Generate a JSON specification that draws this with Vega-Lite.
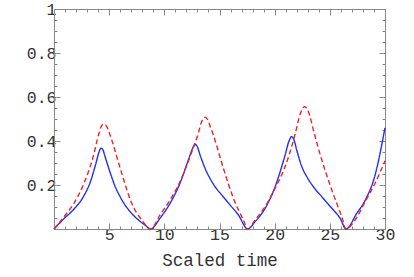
{
  "$schema": "https://vega.github.io/schema/vega-lite/v6.json",
  "width": 331,
  "height": 220,
  "autosize": {"type": "none"},
  "padding": {"left": 54, "top": 9, "right": 29, "bottom": 48},
  "background": "white",
  "config": {
    "view": {"stroke": null},
    "axis": {
      "labelFont": "Liberation Mono",
      "titleFont": "Liberation Mono",
      "labelFontSize": 16.5,
      "titleFontSize": 17.5,
      "titleFontWeight": "normal",
      "labelColor": "#333333",
      "titleColor": "#333333",
      "domainColor": "#888888",
      "tickColor": "#888888",
      "grid": false
    }
  },
  "data": {"values": [
    {"t":0,"v":0,"s":"a"},{"t":0.9,"v":0.047,"s":"a"},{"t":1.8,"v":0.09,"s":"a"},{"t":2.7,"v":0.15,"s":"a"},{"t":3.3,"v":0.215,"s":"a"},{"t":3.78,"v":0.295,"s":"a"},{"t":4.05,"v":0.345,"s":"a"},{"t":4.25,"v":0.367,"s":"a"},{"t":4.43,"v":0.36,"s":"a"},{"t":4.62,"v":0.33,"s":"a"},{"t":5.08,"v":0.258,"s":"a"},{"t":5.53,"v":0.195,"s":"a"},{"t":5.98,"v":0.148,"s":"a"},{"t":6.44,"v":0.109,"s":"a"},{"t":7.04,"v":0.071,"s":"a"},{"t":7.65,"v":0.041,"s":"a"},{"t":8.25,"v":0.018,"s":"a"},{"t":8.76,"v":0,"s":"a"},
    {"t":9.61,"v":0.049,"s":"a"},{"t":10.52,"v":0.117,"s":"a"},{"t":11.42,"v":0.208,"s":"a"},{"t":12.18,"v":0.314,"s":"a"},{"t":12.55,"v":0.365,"s":"a"},{"t":12.78,"v":0.385,"s":"a"},{"t":12.98,"v":0.375,"s":"a"},{"t":13.24,"v":0.336,"s":"a"},{"t":13.69,"v":0.276,"s":"a"},{"t":14.14,"v":0.23,"s":"a"},{"t":14.6,"v":0.192,"s":"a"},{"t":15.2,"v":0.155,"s":"a"},{"t":15.96,"v":0.109,"s":"a"},{"t":16.71,"v":0.064,"s":"a"},{"t":17.56,"v":0,"s":"a"},
    {"t":18.22,"v":0.033,"s":"a"},{"t":19.13,"v":0.094,"s":"a"},{"t":20.04,"v":0.192,"s":"a"},{"t":20.94,"v":0.335,"s":"a"},{"t":21.3,"v":0.4,"s":"a"},{"t":21.55,"v":0.42,"s":"a"},{"t":21.75,"v":0.405,"s":"a"},{"t":22.0,"v":0.359,"s":"a"},{"t":22.46,"v":0.283,"s":"a"},{"t":22.91,"v":0.238,"s":"a"},{"t":23.51,"v":0.192,"s":"a"},{"t":24.27,"v":0.147,"s":"a"},{"t":25.18,"v":0.094,"s":"a"},{"t":25.93,"v":0.049,"s":"a"},{"t":26.47,"v":0,"s":"a"},
    {"t":27.44,"v":0.071,"s":"a"},{"t":28.2,"v":0.13,"s":"a"},{"t":29.1,"v":0.245,"s":"a"},{"t":30,"v":0.46,"s":"a"},
    {"t":0,"v":0,"s":"b"},{"t":0.91,"v":0.056,"s":"b"},{"t":1.81,"v":0.117,"s":"b"},{"t":2.72,"v":0.208,"s":"b"},{"t":3.47,"v":0.314,"s":"b"},{"t":4.08,"v":0.435,"s":"b"},{"t":4.3,"v":0.468,"s":"b"},{"t":4.53,"v":0.477,"s":"b"},{"t":4.75,"v":0.468,"s":"b"},{"t":5.0,"v":0.44,"s":"b"},{"t":5.23,"v":0.405,"s":"b"},{"t":6.14,"v":0.253,"s":"b"},{"t":7.04,"v":0.117,"s":"b"},{"t":7.95,"v":0.041,"s":"b"},{"t":8.76,"v":0,"s":"b"},
    {"t":9.61,"v":0.064,"s":"b"},{"t":10.52,"v":0.132,"s":"b"},{"t":11.42,"v":0.215,"s":"b"},{"t":12.33,"v":0.329,"s":"b"},{"t":13.08,"v":0.435,"s":"b"},{"t":13.4,"v":0.49,"s":"b"},{"t":13.69,"v":0.508,"s":"b"},{"t":13.95,"v":0.495,"s":"b"},{"t":14.2,"v":0.46,"s":"b"},{"t":14.44,"v":0.427,"s":"b"},{"t":15.35,"v":0.276,"s":"b"},{"t":16.26,"v":0.14,"s":"b"},{"t":17.16,"v":0.041,"s":"b"},{"t":17.56,"v":0,"s":"b"},
    {"t":18.22,"v":0.041,"s":"b"},{"t":19.13,"v":0.101,"s":"b"},{"t":20.04,"v":0.185,"s":"b"},{"t":20.94,"v":0.283,"s":"b"},{"t":21.85,"v":0.43,"s":"b"},{"t":22.3,"v":0.52,"s":"b"},{"t":22.7,"v":0.556,"s":"b"},{"t":22.95,"v":0.545,"s":"b"},{"t":23.21,"v":0.51,"s":"b"},{"t":23.51,"v":0.45,"s":"b"},{"t":24.27,"v":0.314,"s":"b"},{"t":25.18,"v":0.177,"s":"b"},{"t":26.08,"v":0.056,"s":"b"},{"t":26.47,"v":0,"s":"b"},
    {"t":27.29,"v":0.041,"s":"b"},{"t":28.2,"v":0.124,"s":"b"},{"t":29.1,"v":0.208,"s":"b"},{"t":30,"v":0.31,"s":"b"}
  ]},
  "layer": [
    {
      "mark": {"type": "line", "interpolate": "monotone", "strokeWidth": 1.4},
      "encoding": {
        "x": {"field": "t", "type": "quantitative", "scale": {"domain": [0, 30], "nice": false, "zero": false},
          "axis": {"orient": "bottom", "title": "Scaled time", "titlePadding": 6,
            "values": [0,1,2,3,4,5,6,7,8,9,10,11,12,13,14,15,16,17,18,19,20,21,22,23,24,25,26,27,28,29,30],
            "labelExpr": "datum.value % 5 === 0 && datum.value > 0 ? datum.label : ''",
            "tickSize": {"condition": {"test": "datum.value % 5 === 0", "value": -6}, "value": -3},
            "labelPadding": 3, "labelFlush": false, "labelOverlap": false}},
        "y": {"field": "v", "type": "quantitative", "scale": {"domain": [0, 1], "nice": false},
          "axis": {"orient": "left", "title": null,
            "values": [0,0.05,0.1,0.15,0.2,0.25,0.3,0.35,0.4,0.45,0.5,0.55,0.6,0.65,0.7,0.75,0.8,0.85,0.9,0.95,1],
            "labelExpr": "abs(datum.value*5 - round(datum.value*5)) < 0.001 && datum.value > 0 ? (datum.value === 1 ? '1' : format(datum.value, '.1f')) : ''",
            "tickSize": {"condition": {"test": "abs(datum.value*5 - round(datum.value*5)) < 0.001", "value": -6}, "value": -3},
            "labelPadding": 4, "labelFlush": false, "labelOverlap": false}},
        "color": {"field": "s", "type": "nominal", "scale": {"domain": ["a", "b"], "range": ["#1f2ff5", "#f52020"]}, "legend": null},
        "strokeDash": {"field": "s", "type": "nominal", "scale": {"domain": ["a", "b"], "range": [[1, 0], [5, 3]]}, "legend": null}
      }
    },
    {
      "mark": {"type": "line", "strokeOpacity": 0},
      "encoding": {
        "x": {"field": "t", "type": "quantitative",
          "axis": {"orient": "top", "title": null, "labels": false,
            "values": [0,1,2,3,4,5,6,7,8,9,10,11,12,13,14,15,16,17,18,19,20,21,22,23,24,25,26,27,28,29,30],
            "tickSize": {"condition": {"test": "datum.value % 5 === 0", "value": -6}, "value": -3}}},
        "y": {"field": "v", "type": "quantitative",
          "axis": {"orient": "right", "title": null, "labels": false,
            "values": [0,0.05,0.1,0.15,0.2,0.25,0.3,0.35,0.4,0.45,0.5,0.55,0.6,0.65,0.7,0.75,0.8,0.85,0.9,0.95,1],
            "tickSize": {"condition": {"test": "abs(datum.value*5 - round(datum.value*5)) < 0.001", "value": -6}, "value": -3}}}
      }
    }
  ],
  "resolve": {"axis": {"x": "independent", "y": "independent"}}
}
